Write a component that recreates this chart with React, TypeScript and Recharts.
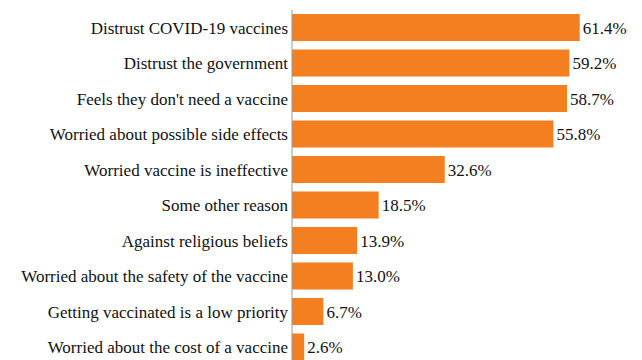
import React from 'react'
import { BarChart, Bar, XAxis, YAxis, LabelList } from 'recharts'

const reasons = [
  'Distrust COVID-19 vaccines',
  'Distrust the government',
  "Feels they don't need a vaccine",
  'Worried about possible side effects',
  'Worried vaccine is ineffective',
  'Some other reason',
  'Against religious beliefs',
  'Worried about the safety of the vaccine',
  'Getting vaccinated is a low priority',
  'Worried about the cost of a vaccine',
]

const shares = [61.4, 59.2, 58.7, 55.8, 32.6, 18.5, 13.9, 13.0, 6.7, 2.6]

const data = reasons.map((reason, i) => ({ reason, share: shares[i] }))

const font = "'Liberation Serif', 'DejaVu Serif', serif"

const App = () => {
  return (
    <div style={{ position: 'absolute', left: 0, top: 0 }}>
      <style>{`.chart-serif text, .chart-serif tspan { font-family: ${font} !important; }`}</style>
      <BarChart
        className="chart-serif"
        layout="vertical"
        width={642}
        height={370}
        data={data}
        margin={{ top: 10, right: 22, bottom: 5, left: 0 }}
      >
        <XAxis type="number" domain={[0, 70]} hide />
        <YAxis
          type="category"
          dataKey="reason"
          width={292}
          tickLine={false}
          tickSize={0}
          tickMargin={4}
          axisLine={{ stroke: '#999999' }}
          tick={{ fill: '#111', fontSize: 17 }}
          interval={0}
        />
        <Bar dataKey="share" fill="#F37F21" barSize={27} isAnimationActive={false}>
          <LabelList
            dataKey="share"
            position="right"
            offset={3}
            formatter={(v: number) => `${v.toFixed(1)}%`}
            fill="#111"
            fontSize={17}
          />
        </Bar>
      </BarChart>
    </div>
  )
}

export default App
